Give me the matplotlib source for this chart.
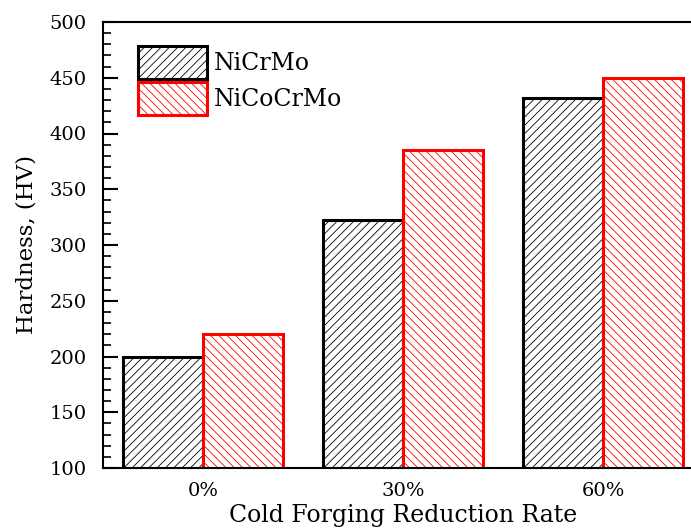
import numpy as np
import matplotlib
matplotlib.use('Agg')
import matplotlib.pyplot as plt
from matplotlib.ticker import MultipleLocator

plt.rcParams['font.family'] = 'DejaVu Serif'
plt.rcParams['hatch.linewidth'] = 0.6

rates = ['0%', '30%', '60%']
nicrmo = [200, 322, 432]
nicocrmo = [220, 385, 450]

fig = plt.figure(figsize=(6.91, 5.28), dpi=100)
# axes run past the right edge of the figure on purpose
ax = fig.add_axes([103 / 691, 60 / 528, 600 / 691, 446 / 528])

x = np.arange(len(rates))
w = 0.4
ax.bar(x - w / 2, nicrmo, w, color='white', edgecolor='black',
       hatch='////', linewidth=2.2, label='NiCrMo')
ax.bar(x + w / 2, nicocrmo, w, color='white', edgecolor='red',
       hatch='\\\\\\\\', linewidth=2.2, label='NiCoCrMo')

ax.set_xlim(-0.5, 2.5)
ax.set_ylim(100, 500)
ax.set_xticks(x)
ax.set_xticklabels(rates, fontsize=14)
ax.yaxis.set_major_locator(MultipleLocator(50))
ax.yaxis.set_minor_locator(MultipleLocator(10))
ax.tick_params(axis='y', which='major', direction='in', length=11, width=1.5,
               labelsize=14, pad=12)
ax.tick_params(axis='y', which='minor', direction='in', length=5.5, width=1.2)
ax.tick_params(axis='x', length=0, pad=10)
for s in ax.spines.values():
    s.set_linewidth(1.5)

ax.set_xlabel('Cold Forging Reduction Rate', fontsize=17, labelpad=3)
ax.set_ylabel('Hardness, (HV)', fontsize=16.5, labelpad=8)

ax.legend(loc='upper left', bbox_to_anchor=(0.043, 0.968), frameon=False,
          fontsize=17, handlelength=2.9, handleheight=1.8, handletextpad=0.3,
          labelspacing=0.12, borderaxespad=0)

fig.savefig('out.png', dpi=100)
